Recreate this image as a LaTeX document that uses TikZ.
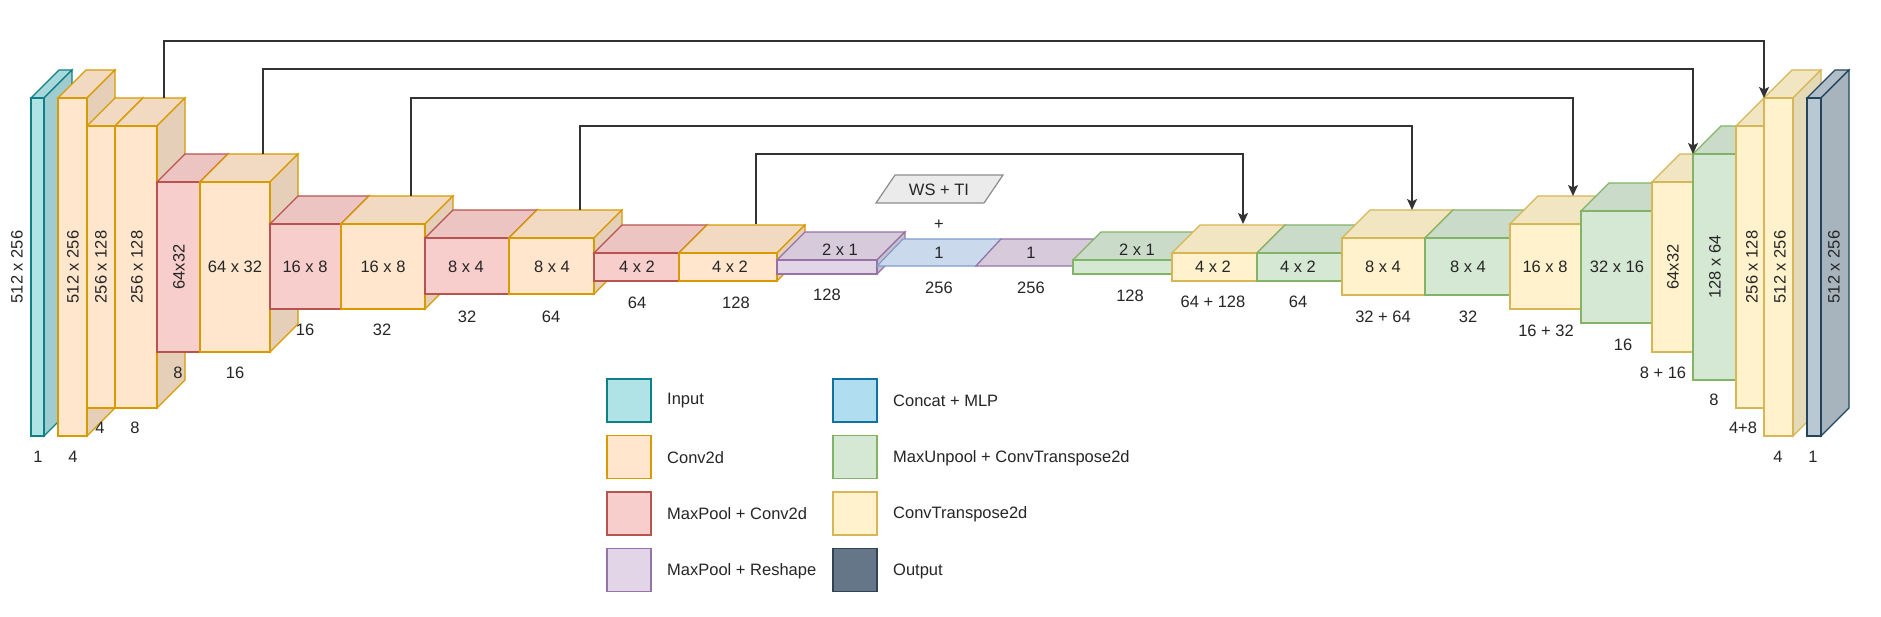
\documentclass[tikz,border=0pt]{standalone}
\usepackage{fontspec}
\setmainfont{Liberation Sans}
\usetikzlibrary{arrows.meta}
\definecolor{cyanF}{HTML}{B0E3E6}\definecolor{cyanL}{HTML}{0E8088}
\definecolor{orangeF}{HTML}{FFE6CC}\definecolor{orangeL}{HTML}{D79B00}
\definecolor{redF}{HTML}{F8CECC}\definecolor{redL}{HTML}{B85450}
\definecolor{purpleF}{HTML}{E1D5E7}\definecolor{purpleL}{HTML}{9673A6}
\definecolor{blueF}{HTML}{D6E4F8}\definecolor{blueL}{HTML}{7E9CCC}
\definecolor{mlpF}{HTML}{B1DDF0}\definecolor{mlpL}{HTML}{10739E}
\definecolor{greenF}{HTML}{D5E8D4}\definecolor{greenL}{HTML}{82B366}
\definecolor{yellowF}{HTML}{FFF2CC}\definecolor{yellowL}{HTML}{D6B656}
\definecolor{outF}{HTML}{BAC8D3}\definecolor{outL}{HTML}{23445D}
\definecolor{legoutF}{HTML}{647687}\definecolor{legoutL}{HTML}{314354}
\definecolor{wsF}{HTML}{EBEBEB}\definecolor{wsL}{HTML}{8C8C8C}
\definecolor{txt}{HTML}{262626}
\definecolor{lineC}{HTML}{333333}
% #1 name, #2 x1, #3 y1, #4 x2, #5 y2 (front face, pixels, y down), #6 colour prefix
\newcommand{\blockcube}[6]{%
  \filldraw[cl, fill=#6F!95!black, draw=#6L] (#2,#3) -- ({#2+28},{#3-28}) -- ({#4+28},{#3-28}) -- (#4,#3) -- cycle;
  \filldraw[cl, fill=#6F!90!black, draw=#6L] (#4,#3) -- ({#4+28},{#3-28}) -- ({#4+28},{#5-28}) -- (#4,#5) -- cycle;
  \node[cl, fill=#6F, draw=#6L, inner sep=0pt, outer sep=0pt,
        minimum width={(#4-#2)*1pt}, minimum height={(#5-#3)*1pt}] (#1) at ({(#2+#4)/2},{(#3+#5)/2}) {};
}
\begin{document}
\begin{tikzpicture}[x=1pt,y=-1pt,
  cl/.style={line width=1.2pt, line join=miter},
  lbl/.style={font=\fontsize{16.5}{19}\selectfont, text=txt, inner sep=0pt},
  skipline/.style={draw=lineC, line width=1.5pt, -{Stealth[length=11pt,width=10pt,inset=2.5pt]}},
  legbox/.style={minimum width=44pt, minimum height=43pt, inner sep=0pt, line width=1.4pt},
  legtext/.style={lbl, anchor=west},
]
\useasboundingbox (0,0) rectangle (1881,616);
\fill[white] (0,0) rectangle (1881,616);

% ---------------- encoder ----------------
\blockcube{c1}{31}{98}{44}{436}{cyan}
\blockcube{c2}{58}{98}{87}{436}{orange}
\blockcube{c3}{87}{126}{115}{408}{orange}
\blockcube{c4}{115}{126}{157}{408}{orange}
\blockcube{c5}{157}{182}{200}{352}{red}
\blockcube{c6}{200}{182}{270}{352}{orange}
\blockcube{c7}{270}{224}{341}{309}{red}
\blockcube{c8}{341}{224}{425}{309}{orange}
\blockcube{c9}{425}{238}{509}{294}{red}
\blockcube{c10}{509}{238}{594}{294}{orange}
\blockcube{c11}{594}{253}{679}{281}{red}
\blockcube{c12}{679}{253}{777}{281}{orange}
\blockcube{c13}{777}{260}{877}{274}{purple}

% ---------------- bottleneck ----------------
\filldraw[cl, fill=blueF!95!black, draw=blueL] (877,266) -- (903,239) -- (1001,239) -- (976,266) -- cycle;
\filldraw[cl, fill=purpleF!95!black, draw=purpleL] (976,266) -- (1001,239) -- (1098,239) -- (1073,266) -- cycle;
\filldraw[line width=1.2pt, fill=wsF, draw=wsL] (876,203) -- (895,175) -- (1003,175) -- (984,203) -- cycle;
\node[lbl] (ws) at (939,190) {WS + TI};
\node[lbl] (plus) at (939,225) {+};
\node[lbl] (m1) at (939,253) {1};
\node[lbl] (m2) at (1031,253) {1};

% ---------------- decoder ----------------
\blockcube{c16}{1073}{260}{1172}{274}{green}
\blockcube{c17}{1172}{253}{1257}{281}{yellow}
\blockcube{c18}{1257}{253}{1342}{281}{green}
\blockcube{c19}{1342}{238}{1425}{295}{yellow}
\blockcube{c20}{1425}{238}{1510}{295}{green}
\blockcube{c21}{1510}{224}{1581}{309}{yellow}
\blockcube{c22}{1581}{211}{1652}{323}{green}
\blockcube{c23}{1652}{182}{1693}{352}{yellow}
\blockcube{c24}{1693}{154}{1736}{380}{green}
\blockcube{c25}{1736}{126}{1764}{408}{yellow}
\blockcube{c26}{1764}{98}{1793}{436}{yellow}
\blockcube{c27}{1807}{98}{1821}{436}{out}

% ---------------- labels inside / beside blocks ----------------
\node[lbl, rotate=90] at (17,267) {512 x 256};
\node[lbl, rotate=90] at (73,267) {512 x 256};
\node[lbl, rotate=90] at (101,267) {256 x 128};
\node[lbl, rotate=90] at (137,267) {256 x 128};
\node[lbl, rotate=90] at (179,267) {64x32};
\node[lbl] at (235,267) {64 x 32};
\node[lbl] at (305,267) {16 x 8};
\node[lbl] at (383,267) {16 x 8};
\node[lbl] at (466,267) {8 x 4};
\node[lbl] at (552,267) {8 x 4};
\node[lbl] at (637,267) {4 x 2};
\node[lbl] at (730,267) {4 x 2};
\node[lbl] at (840,250) {2 x 1};
\node[lbl] at (1137,250) {2 x 1};
\node[lbl] at (1213,267) {4 x 2};
\node[lbl] at (1298,267) {4 x 2};
\node[lbl] at (1383,267) {8 x 4};
\node[lbl] at (1468,267) {8 x 4};
\node[lbl] at (1545,267) {16 x 8};
\node[lbl] at (1617,267) {32 x 16};
\node[lbl, rotate=90] at (1673,267) {64x32};
\node[lbl, rotate=90] at (1715,267) {128 x 64};
\node[lbl, rotate=90] at (1752,267) {256 x 128};
\node[lbl, rotate=90] at (1780,267) {512 x 256};
\node[lbl, rotate=90] at (1834,267) {512 x 256};

% ---------------- channel labels ----------------
\node[lbl] at (38,457) {1};
\node[lbl] at (73,457) {4};
\node[lbl] at (100,428) {4};
\node[lbl] at (135,428) {8};
\node[lbl] at (178,373) {8};
\node[lbl] at (235,373) {16};
\node[lbl] at (305,330) {16};
\node[lbl] at (382,330) {32};
\node[lbl] at (467,317) {32};
\node[lbl] at (551,317) {64};
\node[lbl] at (637,303) {64};
\node[lbl] at (736,303) {128};
\node[lbl] at (827,295) {128};
\node[lbl] at (939,288) {256};
\node[lbl] at (1031,288) {256};
\node[lbl] at (1130,296) {128};
\node[lbl] at (1213,302) {64 + 128};
\node[lbl] at (1298,302) {64};
\node[lbl] at (1383,317) {32 + 64};
\node[lbl] at (1468,317) {32};
\node[lbl] at (1546,331) {16 + 32};
\node[lbl] at (1623,345) {16};
\node[lbl] at (1663,373) {8 + 16};
\node[lbl] at (1714,400) {8};
\node[lbl] at (1743,428) {4+8};
\node[lbl] at (1778,457) {4};
\node[lbl] at (1813,457) {1};

% ---------------- skip connections ----------------
\coordinate (s1) at (164,98);  \coordinate (h1) at (0,41);  \coordinate (e1) at (c26.north west);
\coordinate (s2) at (263,154); \coordinate (h2) at (0,69);  \coordinate (e2) at (c24.north west);
\coordinate (s3) at (411,196); \coordinate (h3) at (0,98);  \coordinate (e3) at (1573,196);
\coordinate (s4) at (580,210); \coordinate (h4) at (0,126); \coordinate (e4) at (1412,210);
\coordinate (s5) at (756,224); \coordinate (h5) at (0,154); \coordinate (e5) at (1243,224);
\draw[skipline] (s1) -- (s1 |- h1) -| (e1);
\draw[skipline] (s2) -- (s2 |- h2) -| (e2);
\draw[skipline] (s3) -- (s3 |- h3) -| (e3);
\draw[skipline] (s4) -- (s4 |- h4) -| (e4);
\draw[skipline] (s5) -- (s5 |- h5) -| (e5);

% ---------------- legend ----------------
\node[legbox, fill=cyanF, draw=cyanL] (l1) at (629,400.5) {};
\node[legbox, fill=orangeF, draw=orangeL] (l2) at (629,457) {};
\node[legbox, fill=redF, draw=redL] (l3) at (629,513.5) {};
\node[legbox, fill=purpleF, draw=purpleL] (l4) at (629,570) {};
\node[legbox, fill=mlpF, draw=mlpL] (l5) at (855,400.5) {};
\node[legbox, fill=greenF, draw=greenL] (l6) at (855,457) {};
\node[legbox, fill=yellowF, draw=yellowL] (l7) at (855,513.5) {};
\node[legbox, fill=legoutF, draw=legoutL] (l8) at (855,570) {};
\node[legtext] at (667,401) {Input};
\node[legtext] at (667,458) {Conv2d};
\node[legtext] at (667,514) {MaxPool + Conv2d};
\node[legtext] at (667,571) {MaxPool + Reshape};
\node[legtext] at (893,401) {Concat + MLP};
\node[legtext] at (893,458) {MaxUnpool + ConvTranspose2d};
\node[legtext] at (893,514) {ConvTranspose2d};
\node[legtext] at (893,571) {Output};
\end{tikzpicture}
\end{document}
